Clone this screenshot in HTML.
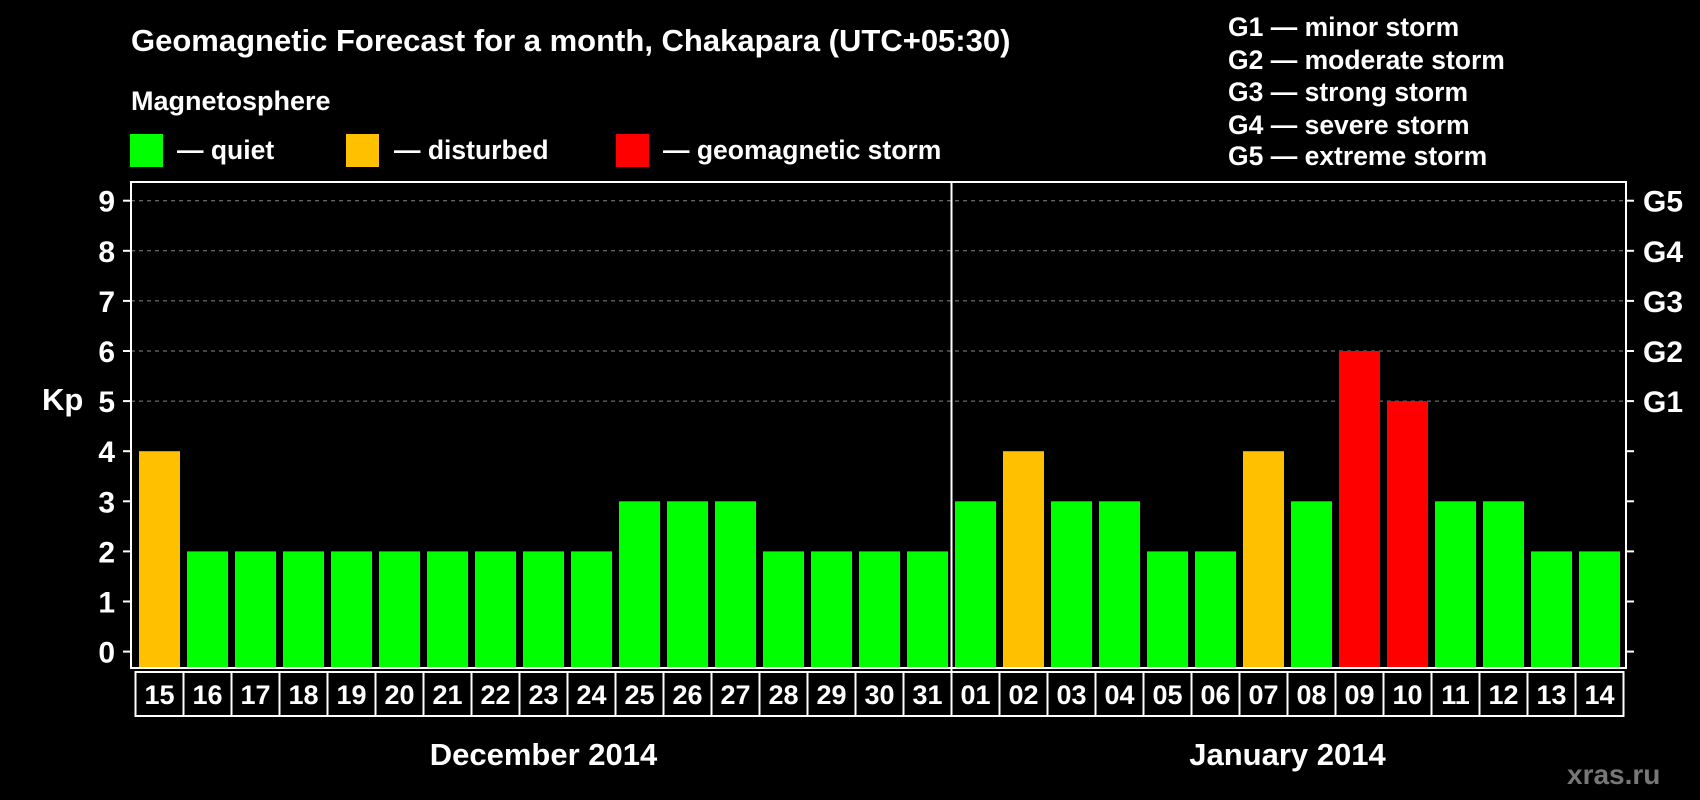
<!DOCTYPE html>
<html><head><meta charset="utf-8"><style>
html,body{margin:0;padding:0;background:#000;}
svg{display:block;font-family:"Liberation Sans",Arial,sans-serif;font-weight:bold;}
</style></head><body>
<svg id="chart" width="1700" height="800" viewBox="0 0 1700 800">
<rect width="1700" height="800" fill="#000"/>
<text x="131" y="51" fill="#fff" font-size="31">Geomagnetic Forecast for a month, Chakapara (UTC+05:30)</text>
<text x="131" y="110" fill="#fff" font-size="27">Magnetosphere</text>
<rect x="130" y="134" width="33" height="33" fill="#00ff00"/>
<text x="177" y="159" fill="#fff" font-size="26.5">— quiet</text>
<rect x="346" y="134" width="33" height="33" fill="#ffc000"/>
<text x="394" y="159" fill="#fff" font-size="26.5">— disturbed</text>
<rect x="616" y="134" width="33" height="33" fill="#ff0000"/>
<text x="663" y="159" fill="#fff" font-size="26.5">— geomagnetic storm</text>
<g fill="#fff" font-size="26.5">
<text x="1228" y="36">G1 — minor storm</text>
<text x="1228" y="69">G2 — moderate storm</text>
<text x="1228" y="101">G3 — strong storm</text>
<text x="1228" y="134">G4 — severe storm</text>
<text x="1228" y="165">G5 — extreme storm</text>
</g>
<text x="42" y="410" fill="#fff" font-size="31">Kp</text>
<text x="1567" y="784" fill="#777" font-size="28">xras.ru</text>
<g id="plot"></g>
</svg>
<script>
const days = ["15","16","17","18","19","20","21","22","23","24","25","26","27","28","29","30","31","01","02","03","04","05","06","07","08","09","10","11","12","13","14"];
const kpValues = [4,2,2,2,2,2,2,2,2,2,3,3,3,2,2,2,2,3,4,3,3,2,2,4,3,6,5,3,3,2,2];
const yTicks = [0,1,2,3,4,5,6,7,8,9];
const gLabels = ["G1","G2","G3","G4","G5"];
const gLevels = [5,6,7,8,9];
const months = ["December 2014","January 2014"];
const monthStarts = [0,17];

const NS="http://www.w3.org/2000/svg";
const g=document.getElementById('plot');
const L=131,R=1626,T=182,B=668,Y0=651.6,STEP=50.1;
const first=159.5,pitch=48,bw=41;
function yS(v){return Y0-v*STEP;}
function xS(i){return first+i*pitch;}
function mk(t,a){const e=document.createElementNS(NS,t);for(const k in a)e.setAttribute(k,a[k]);g.appendChild(e);return e;}
function color(v){return v>=5?"#ff0000":(v>=4?"#ffc000":"#00ff00");}

gLevels.forEach((lv,i)=>{
  const l=mk('line',{x1:L,x2:R,y1:yS(lv),y2:yS(lv),stroke:'#888','stroke-dasharray':'4,4','stroke-width':1});
  
  
  const t=mk('text',{x:1643,y:yS(lv)+11,fill:'#fff','font-size':30});
  t.textContent=gLabels[i];
  
  
});
yTicks.forEach(v=>{
  const a=mk('line',{x1:123,x2:L,y1:yS(v),y2:yS(v),stroke:'#fff','stroke-width':2});
  
  
  const b=mk('line',{x1:R,x2:R+8,y1:yS(v),y2:yS(v),stroke:'#fff','stroke-width':2});
  
  
  const t=mk('text',{x:115,y:yS(v)+11,fill:'#fff','font-size':30,'text-anchor':'end'});
  t.textContent=v;
  
  
});
kpValues.forEach((v,i)=>{
  const r=mk('rect',{x:xS(i)-bw/2,y:yS(v),width:bw,height:B-yS(v),fill:color(v)});
  
  
});
const fr=mk('rect',{x:L,y:T,width:R-L,height:B-T,fill:'none',stroke:'#fff','stroke-width':2});


const sx=(xS(monthStarts[1]-1)+xS(monthStarts[1]))/2;
const sep=mk('line',{x1:sx,x2:sx,y1:T,y2:716,stroke:'#fff','stroke-width':2});


days.forEach((d,i)=>{
  const r=mk('rect',{x:xS(i)-pitch/2,y:672,width:pitch,height:44,fill:'none',stroke:'#fff','stroke-width':2});
  
  
  const t=mk('text',{x:xS(i),y:704,fill:'#fff','font-size':27,'text-anchor':'middle'});
  t.textContent=d;
  
  
});
months.forEach((m,k)=>{
  const s=monthStarts[k], e=(k+1<monthStarts.length?monthStarts[k+1]:days.length)-1;
  const t=mk('text',{x:(xS(s)+xS(e))/2,y:765,fill:'#fff','font-size':31,'text-anchor':'middle'});
  t.textContent=m;
  
  
});
</script>
</body></html>
